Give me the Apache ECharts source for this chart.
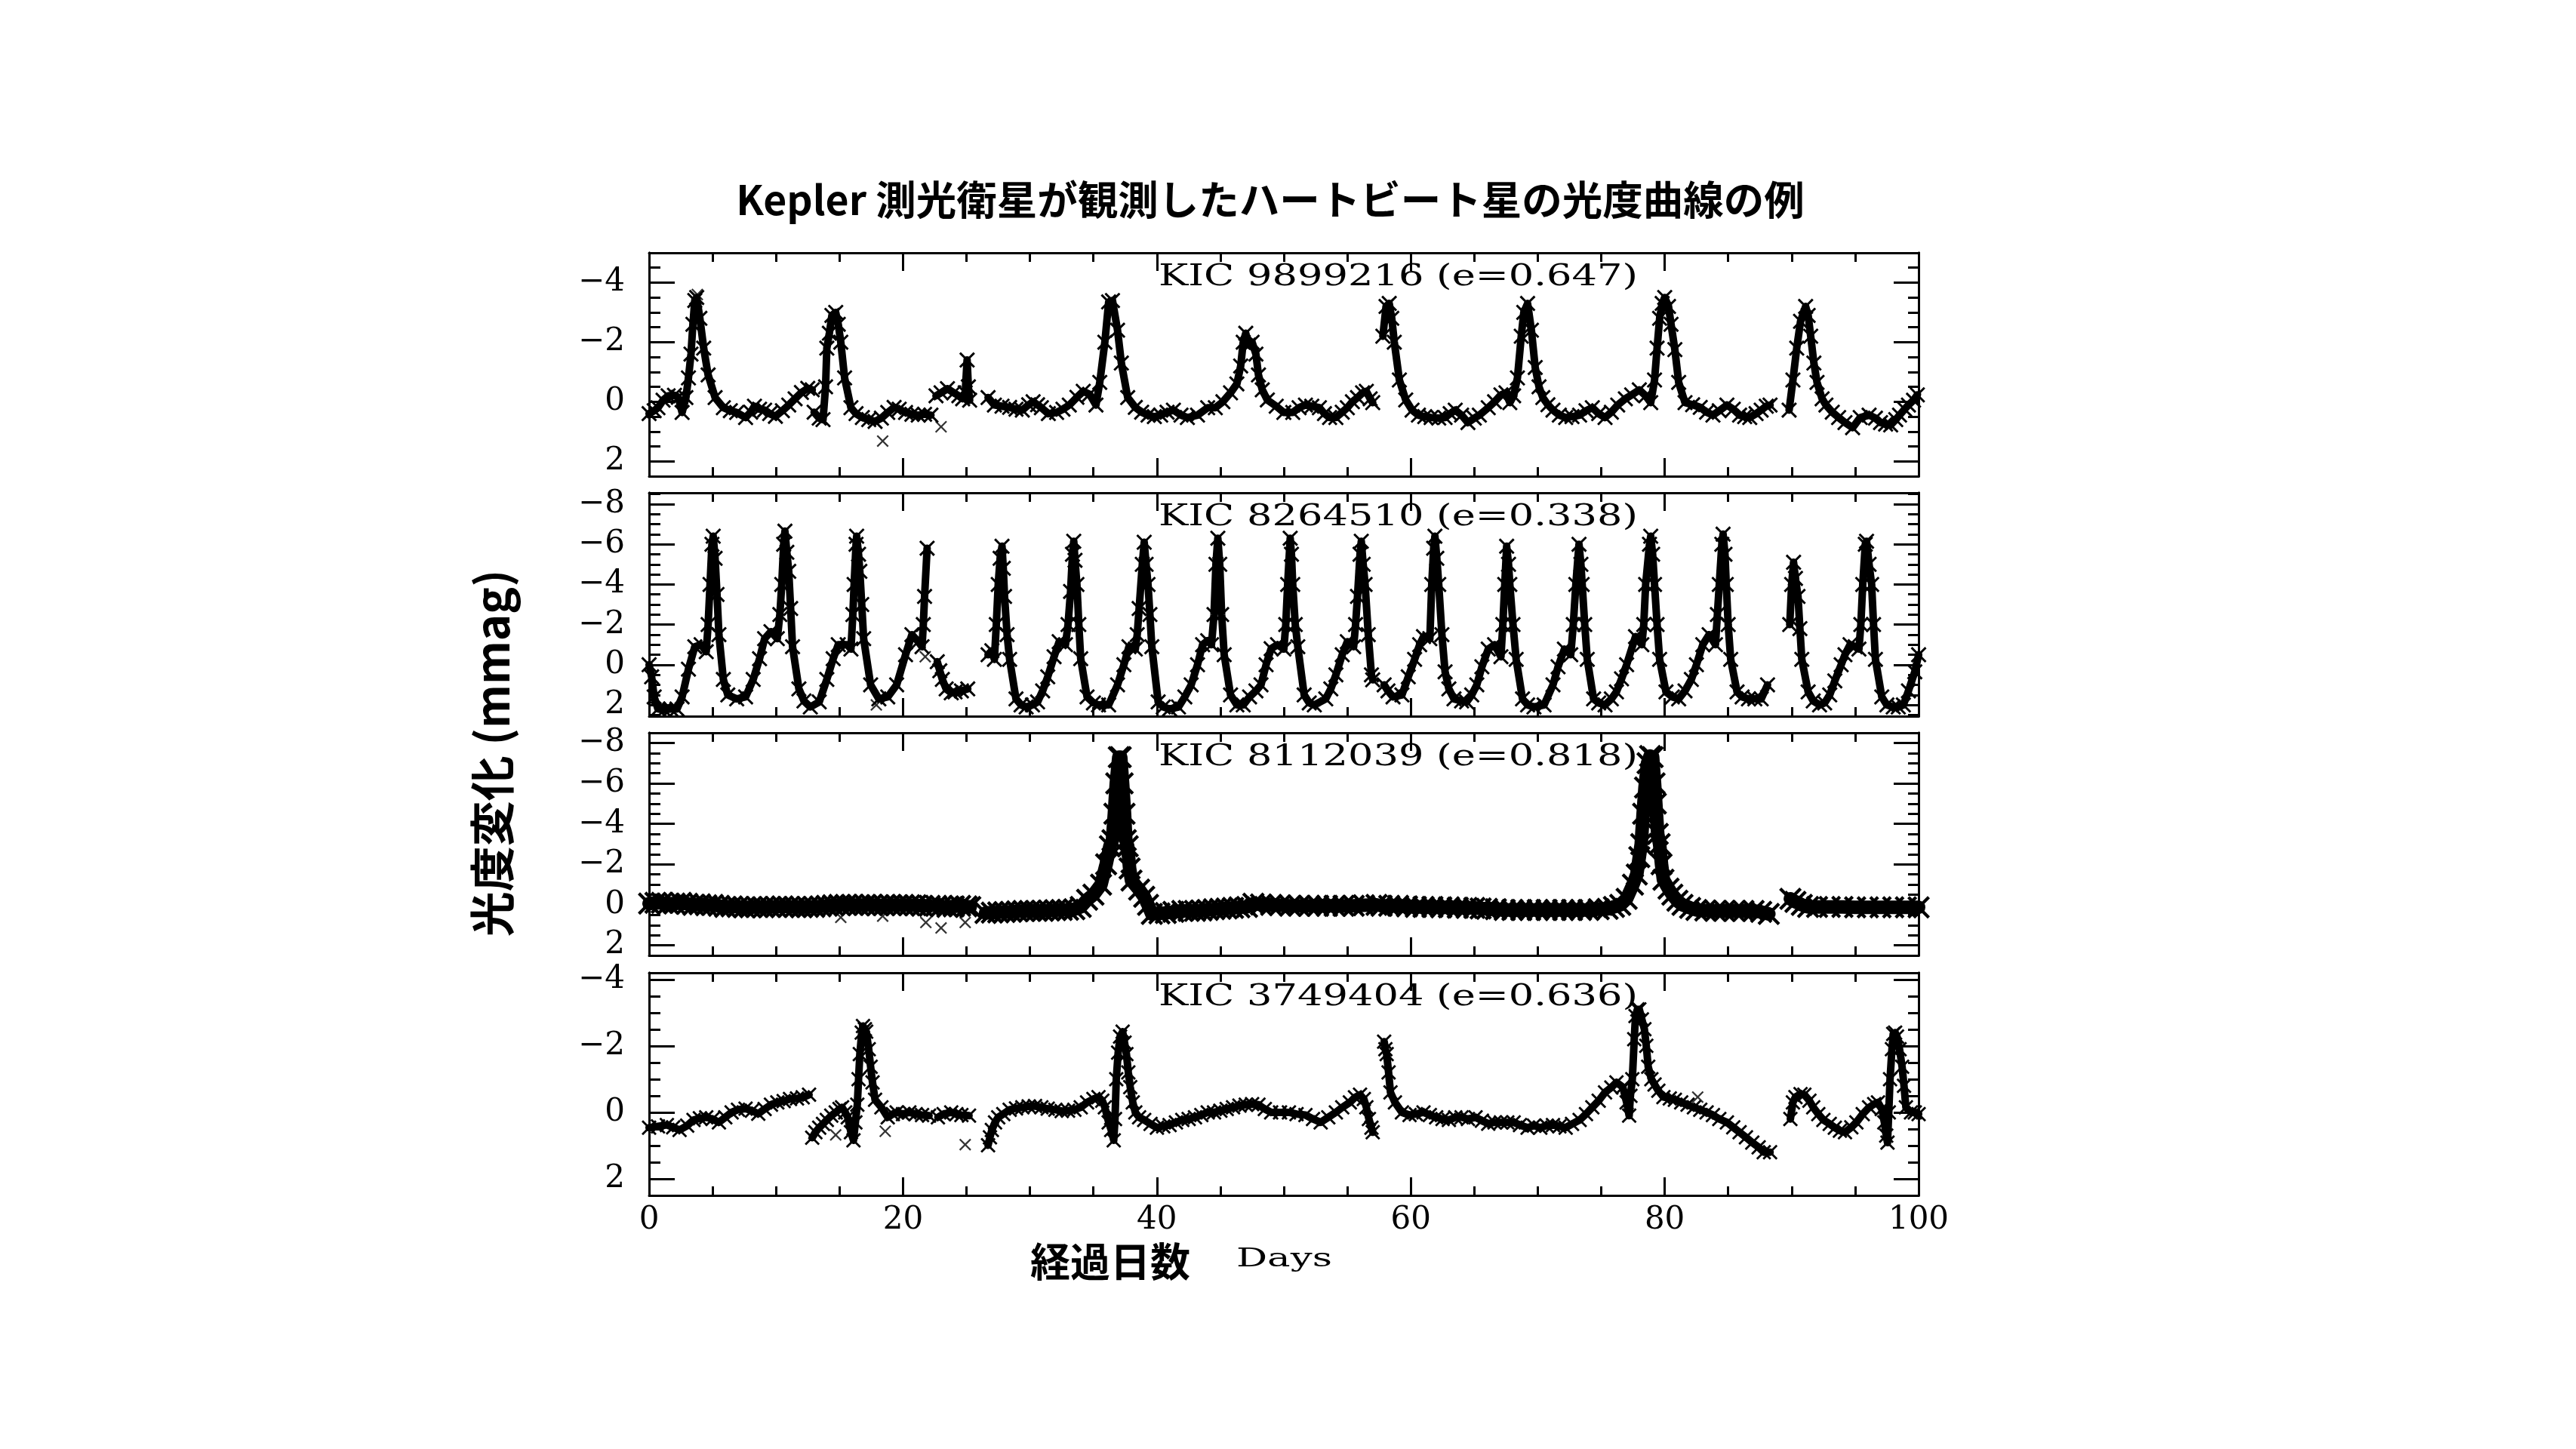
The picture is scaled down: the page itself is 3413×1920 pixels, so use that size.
<!DOCTYPE html>
<html><head><meta charset="utf-8">
<script src="https://cdn.jsdelivr.net/npm/echarts@6/dist/echarts.min.js"></script>
<style>html,body{margin:0;padding:0;background:#fff}#c{width:3413px;height:1920px}</style>
</head><body><div id="c"></div>
<script>
// ---------------- DATA ----------------
const TITLE = 'Kepler 測光衛星が観測したハートビート星の光度曲線の例';
const Y_NAME = '光度変化 (mmag)';
const X_NAME_JA = '経過日数';
const X_NAME_EN = 'Days';
const KIC_LABELS = ['KIC 9899216 (e=0.647)', 'KIC 8264510 (e=0.338)', 'KIC 8112039 (e=0.818)', 'KIC 3749404 (e=0.636)'];
const X_TICKS = [0, 20, 40, 60, 80, 100];
const Y_TICKS = [[-4, -2, 0, 2], [-8, -6, -4, -2, 0, 2], [-8, -6, -4, -2, 0, 2], [-4, -2, 0, 2]];
const Y_RANGES = [[-5, 2.5], [-8.56, 2.56], [-8.5, 2.5], [-4.2, 2.5]];

// light curves: [day, mmag]; null = gap in the data
const kic9899216 = [
 [0.0,0.40],[0.4,0.30],[0.7,0.20],[1.1,-0.05],[1.5,-0.20],[2.0,-0.22],[2.3,-0.15],[2.6,0.36],[2.9,-0.14],[3.1,-0.8],[3.3,-1.6],[3.45,-2.6],[3.6,-3.4],[3.75,-3.5],[4.0,-2.8],[4.3,-1.8],[4.65,-0.9],[5.2,-0.14],[5.85,0.2],[6.4,0.3],[6.9,0.36],[7.6,0.53],[8.0,0.35],[8.3,0.15],[8.7,0.25],[9.1,0.28],[9.5,0.4],[9.95,0.49],[10.5,0.3],[11.0,0.11],[11.5,-0.1],[12.0,-0.31],[12.5,-0.45],[12.85,-0.40],
 null,
 [13.0,0.35],[13.4,0.55],[13.7,0.6],[13.9,-0.5],[14.0,-1.8],[14.2,-2.3],[14.4,-2.9],[14.7,-3.0],[14.9,-2.6],[15.1,-2.0],[15.4,-0.8],[15.9,0.2],[16.3,0.4],[16.8,0.53],[17.3,0.6],[17.8,0.66],[18.3,0.55],[18.8,0.36],[19.3,0.19],[19.7,0.25],[20.2,0.36],[20.7,0.42],[21.2,0.45],[21.7,0.42],[22.2,0.45],
 null,
 [22.6,-0.2],[23.0,-0.3],[23.5,-0.44],[24.0,-0.3],[24.4,-0.2],[24.7,-0.1],[24.9,-0.3],[25.05,-1.4],[25.15,-0.5],[25.25,-0.05],
 null,
 [26.7,-0.14],[27.2,0.11],[27.8,0.15],[28.4,0.19],[28.9,0.25],[29.4,0.28],[29.9,0.1],[30.25,0.0],[30.6,0.1],[30.9,0.2],[31.45,0.4],[32.1,0.36],[32.6,0.25],[33.1,0.11],[33.7,-0.15],[34.2,-0.35],[34.7,-0.25],[35.2,0.11],[35.5,-0.65],[35.9,-2.0],[36.2,-3.35],[36.5,-3.4],[36.9,-2.4],[37.2,-1.3],[37.7,-0.14],[38.3,0.19],[38.8,0.35],[39.3,0.45],[39.8,0.5],[40.3,0.45],[40.8,0.35],[41.3,0.28],[41.9,0.45],[42.4,0.53],[43.2,0.45],[44.0,0.2],[44.6,0.2],[45.2,0.0],[45.8,-0.3],[46.3,-0.6],[46.6,-1.2],[46.8,-2.0],[47.0,-2.3],[47.2,-1.9],[47.5,-2.0],[47.8,-1.6],[48.0,-0.9],[48.3,-0.4],[48.7,-0.06],[49.4,0.15],[50.0,0.36],[50.7,0.36],[51.2,0.2],[51.7,0.11],[52.2,0.15],[52.8,0.2],[53.2,0.4],[53.6,0.53],[54.1,0.53],[54.6,0.35],[55.0,0.2],[55.4,0.0],[55.8,-0.14],[56.2,-0.3],[56.5,-0.35],[56.8,-0.1],[57.0,0.03],
 null,
 [57.8,-2.2],[58.05,-3.2],[58.3,-3.3],[58.5,-2.8],[58.7,-2.0],[59.1,-0.73],[59.6,-0.06],[60.1,0.28],[60.6,0.45],[61.1,0.5],[61.6,0.53],[62.2,0.55],[62.7,0.53],[63.1,0.4],[63.5,0.28],[64.0,0.45],[64.5,0.7],[65.0,0.55],[65.4,0.45],[66.1,0.2],[66.6,0.0],[67.1,-0.23],[67.5,-0.3],[67.8,0.03],[68.1,-0.2],[68.4,-0.8],[68.7,-2.2],[68.9,-3.0],[69.2,-3.3],[69.5,-2.4],[69.8,-1.15],[70.1,-0.5],[70.4,-0.14],[70.8,0.1],[71.2,0.28],[71.7,0.45],[72.2,0.53],[72.7,0.5],[73.3,0.45],[73.8,0.3],[74.3,0.2],[74.8,0.4],[75.3,0.53],[75.8,0.35],[76.3,0.11],[76.9,-0.1],[77.4,-0.23],[78.0,-0.4],[78.5,-0.2],[78.9,0.03],[79.2,-0.73],[79.4,-1.8],[79.6,-2.8],[79.8,-3.3],[80.0,-3.5],[80.3,-3.2],[80.5,-2.6],[80.8,-1.75],[81.1,-0.65],[81.6,0.03],[82.2,0.1],[82.8,0.19],[83.3,0.35],[83.8,0.45],[84.3,0.3],[84.9,0.11],[85.4,0.25],[85.9,0.45],[86.3,0.5],[86.7,0.53],[87.2,0.4],[87.6,0.28],[88.0,0.15],[88.3,0.11],
 null,
 [89.8,0.28],[90.1,-0.73],[90.4,-1.8],[90.7,-2.7],[91.1,-3.2],[91.3,-2.9],[91.5,-2.2],[91.75,-1.3],[92.0,-0.65],[92.4,-0.1],[92.7,0.11],[93.2,0.35],[93.7,0.53],[94.2,0.7],[94.8,0.87],[95.4,0.53],[96.1,0.45],[96.6,0.55],[97.0,0.7],[97.4,0.75],[97.8,0.78],[98.2,0.6],[98.5,0.45],[98.9,0.25],[99.2,0.11],[99.6,-0.05],[99.9,-0.23]
];
const kic9899216Outliers = [[18.4,1.32],[23.0,0.84],[3.8,-3.6]];

const kic8264510 = [
 [0.0,0.0],[0.2,0.6],[0.4,1.6],[0.7,2.2],[1.2,2.25],[1.7,2.2],[2.2,2.2],[2.6,1.6],[3.1,0.22],[3.6,-0.9],[4.1,-1.0],[4.5,-0.65],[4.65,-2.0],[4.8,-4.0],[4.95,-6.0],[5.05,-6.4],[5.2,-5.3],[5.35,-3.5],[5.5,-1.5],[5.85,0.73],[6.2,1.5],[6.9,1.7],[7.6,1.6],[8.2,0.73],[8.7,-0.3],[9.1,-1.3],[9.6,-1.65],[10.1,-1.3],[10.3,-2.5],[10.45,-4.0],[10.6,-6.0],[10.7,-6.65],[10.85,-5.6],[11.0,-4.65],[11.15,-2.8],[11.3,-0.9],[11.8,1.2],[12.2,1.8],[12.7,2.1],[13.4,1.85],[14.0,0.73],[14.5,-0.3],[14.9,-1.0],[15.6,-1.0],[15.9,-0.78],[16.05,-2.5],[16.15,-4.0],[16.3,-6.0],[16.35,-6.4],[16.5,-5.5],[16.6,-4.65],[16.75,-3.0],[16.9,-1.3],[17.45,1.0],[18.1,1.7],[18.8,1.6],[19.5,1.0],[20.2,-0.5],[20.7,-1.5],[21.2,-1.15],[21.5,-0.9],[21.6,-2.0],[21.7,-3.4],[21.9,-5.8],
 null,
 [22.7,-0.15],[22.9,0.3],[23.1,0.73],[23.4,1.2],[23.8,1.4],[24.1,1.35],[24.6,1.3],[25.1,1.2],
 null,
 [26.7,-0.5],[27.0,-0.7],[27.2,-0.27],[27.35,-2.0],[27.5,-4.0],[27.65,-5.3],[27.8,-5.9],[27.9,-4.8],[28.0,-3.4],[28.2,-1.5],[28.4,-0.27],[28.9,1.7],[29.3,2.0],[29.7,2.1],[30.2,2.0],[30.6,1.85],[31.0,1.3],[31.4,0.6],[31.9,-0.4],[32.3,-1.15],[32.8,-1.0],[33.0,-2.0],[33.2,-3.65],[33.35,-5.5],[33.45,-6.15],[33.55,-5.2],[33.7,-4.0],[33.85,-2.0],[34.0,-0.3],[34.5,1.6],[35.0,1.9],[35.4,2.0],[36.2,2.0],[36.9,1.0],[37.4,0.0],[37.8,-0.9],[38.3,-0.78],[38.45,-1.5],[38.6,-2.8],[38.85,-5.0],[39.0,-6.1],[39.15,-5.0],[39.3,-4.0],[39.45,-2.5],[39.6,-0.9],[40.1,1.85],[40.5,2.1],[41.0,2.2],[41.7,2.1],[42.2,1.6],[42.7,1.0],[43.2,0.0],[43.6,-1.0],[44.0,-1.2],[44.3,-1.0],[44.5,-2.5],[44.65,-5.0],[44.8,-6.3],[44.95,-5.0],[45.1,-2.5],[45.3,-0.5],[45.8,1.5],[46.3,2.0],[46.8,2.0],[47.3,1.6],[47.8,1.3],[48.2,1.0],[48.6,0.0],[49.0,-0.8],[49.5,-1.0],[50.0,-0.78],[50.15,-2.0],[50.3,-4.0],[50.5,-6.3],[50.6,-5.5],[50.7,-4.0],[50.9,-2.0],[51.1,-0.9],[51.6,1.5],[52.0,1.9],[52.4,2.0],[53.3,1.7],[53.7,1.2],[54.1,0.5],[54.6,-0.5],[55.0,-1.15],[55.5,-0.9],[55.65,-2.0],[55.8,-3.4],[56.0,-5.5],[56.1,-6.15],[56.25,-5.0],[56.4,-4.0],[56.65,-1.5],[56.9,0.5],[57.0,0.75],
 null,
 [57.9,1.0],[58.2,1.3],[58.6,1.6],[59.3,1.5],[59.8,0.6],[60.3,-0.27],[60.7,-1.0],[61.0,-1.4],[61.5,-1.3],[61.65,-4.0],[61.8,-5.8],[61.9,-6.4],[62.05,-5.3],[62.2,-4.0],[62.45,-1.5],[62.7,0.35],[63.0,1.2],[63.4,1.7],[64.0,1.8],[64.4,1.85],[64.8,1.5],[65.2,1.0],[65.6,0.1],[66.1,-0.78],[66.6,-1.0],[67.1,-0.4],[67.25,-2.0],[67.4,-4.0],[67.55,-5.9],[67.7,-5.0],[67.8,-4.0],[68.05,-2.0],[68.3,-0.27],[68.8,1.7],[69.2,2.0],[69.7,2.1],[70.5,2.0],[71.2,1.0],[71.6,0.1],[72.1,-0.78],[72.6,-0.5],[72.8,-2.0],[73.0,-4.0],[73.25,-6.0],[73.4,-5.0],[73.5,-4.0],[73.7,-2.0],[73.9,-0.27],[74.4,1.7],[74.8,1.9],[75.3,2.0],[75.8,1.7],[76.2,1.35],[76.6,0.7],[77.0,0.0],[77.7,-1.4],[78.2,-1.0],[78.35,-2.0],[78.5,-4.0],[78.8,-6.0],[78.9,-6.4],[79.05,-5.5],[79.2,-4.0],[79.4,-2.0],[79.6,-0.27],[80.1,1.35],[80.6,1.6],[81.1,1.7],[81.6,1.3],[82.1,0.73],[82.5,0.0],[83.0,-1.0],[83.5,-1.5],[84.0,-1.0],[84.15,-2.5],[84.3,-4.0],[84.5,-6.0],[84.6,-6.5],[84.75,-5.5],[84.85,-4.0],[85.0,-2.0],[85.2,-0.27],[85.7,1.35],[86.1,1.6],[86.6,1.7],[87.1,1.7],[87.6,1.7],[88.1,1.0],
 null,
 [89.85,-2.0],[90.0,-4.0],[90.15,-5.1],[90.3,-4.3],[90.5,-3.4],[90.65,-1.8],[90.8,-0.27],[91.3,1.35],[91.7,1.8],[92.2,2.0],[92.6,1.9],[93.0,1.5],[93.4,0.8],[93.9,0.0],[94.2,-0.5],[94.6,-1.0],[95.0,-0.9],[95.3,-0.78],[95.45,-2.0],[95.6,-4.0],[95.8,-6.0],[95.9,-6.15],[96.1,-5.0],[96.3,-4.0],[96.45,-2.0],[96.6,-0.27],[97.1,1.6],[97.5,2.0],[98.0,2.1],[98.4,2.1],[98.8,2.0],[99.2,1.3],[99.7,0.35],[100.0,-0.5]
];
const kic8264510Outliers = [[21.75,-0.4],[17.9,2.0]];

const kic8112039 = [
 [0.0,-0.06],[0.5,-0.1],[1.0,-0.1],[1.5,-0.05],[2.0,-0.06],[2.5,-0.1],[3.0,-0.05],[3.5,0.0],[4.0,-0.03],[4.5,0.02],[5.0,0.0],[5.5,0.05],[6.0,0.1],[6.5,0.08],[7.0,0.1],[7.5,0.12],[8.0,0.12],[8.5,0.1],[9.0,0.12],[9.5,0.1],[10.0,0.1],[10.5,0.08],[11.0,0.1],[11.5,0.1],[12.0,0.12],[12.5,0.1],[13.0,0.1],[13.5,0.08],[14.0,0.05],[14.5,0.02],[15.0,0.0],[15.5,0.0],[16.0,0.0],[16.5,0.02],[17.0,0.0],[17.5,0.0],[18.0,0.02],[18.5,0.02],[19.0,0.0],[19.5,0.02],[20.0,0.0],[20.5,0.02],[21.0,0.02],[21.5,0.05],[22.1,0.05],
 null,
 [22.6,0.05],[23.0,0.08],[23.5,0.1],[24.0,0.08],[24.5,0.05],[25.0,0.08],[25.3,0.1],
 null,
 [26.5,0.4],[27.0,0.38],[27.5,0.37],[28.0,0.36],[28.5,0.35],[29.0,0.32],[29.5,0.3],[30.0,0.3],[30.5,0.3],[31.0,0.3],[31.5,0.28],[32.0,0.26],[32.5,0.25],[33.0,0.24],[33.5,0.22],[34.0,0.1],[34.5,-0.25],[35.0,-0.5],[35.6,-1.0],[36.0,-2.0],[36.3,-2.9],[36.5,-3.2],[36.65,-4.5],[36.8,-6.0],[37.0,-7.3],[37.15,-7.3],[37.3,-6.0],[37.45,-4.5],[37.55,-3.2],[37.7,-2.9],[37.85,-1.8],[38.0,-1.2],[38.6,-0.75],[39.0,-0.4],[39.3,0.0],[39.6,0.45],[40.2,0.42],[40.7,0.4],[41.3,0.35],[42.0,0.3],[42.5,0.3],[43.0,0.3],[43.5,0.28],[44.0,0.25],[44.5,0.22],[45.0,0.2],[45.5,0.18],[46.0,0.15],[46.5,0.12],[47.1,0.1],
 null,
 [47.6,-0.05],[48.2,-0.02],[49.0,0.0],[49.7,0.02],[50.5,0.05],[51.2,0.05],[52.0,0.05],[52.7,0.05],[53.4,0.05],[54.0,0.05],[54.7,0.05],[55.5,0.05],[56.3,0.02],[57.3,0.0],
 null,
 [57.7,0.05],[58.3,0.05],[59.0,0.05],[59.7,0.08],[60.4,0.1],[61.0,0.1],[61.7,0.1],[62.4,0.12],[63.0,0.12],[63.7,0.14],[64.4,0.15],[65.0,0.15],[65.5,0.18],[66.0,0.2],[66.7,0.22],[67.4,0.25],[68.0,0.25],[68.7,0.25],[69.4,0.25],[70.0,0.25],[70.7,0.25],[71.4,0.25],[72.0,0.25],[72.7,0.25],[73.4,0.25],[74.0,0.25],[74.8,0.22],[75.5,0.2],[76.0,0.1],[76.5,0.0],[77.0,-0.3],[77.5,-1.0],[77.8,-1.5],[78.0,-2.36],[78.15,-3.0],[78.3,-4.5],[78.45,-5.8],[78.65,-7.0],[78.85,-7.35],[79.05,-7.3],[79.2,-6.0],[79.3,-5.0],[79.45,-3.5],[79.6,-3.0],[79.75,-2.0],[79.9,-1.24],[80.3,-0.8],[80.6,-0.5],[81.0,-0.2],[81.4,0.0],[82.0,0.15],[82.5,0.25],[83.2,0.28],[84.0,0.3],[84.7,0.3],[85.5,0.3],[86.2,0.3],[87.0,0.3],[87.6,0.35],[88.2,0.45],
 null,
 [89.9,-0.3],[90.3,-0.15],[90.8,0.0],[91.3,0.1],[92.0,0.1],[93.0,0.1],[94.0,0.1],[95.0,0.12],[96.0,0.12],[97.0,0.12],[98.0,0.12],[99.0,0.12],[100.0,0.12]
];
const kic8112039Outliers = [[15.1,0.62],[18.4,0.56],[21.8,0.87],[23.0,1.14],[24.9,0.87]];

const kic3749404 = [
 [0.0,0.46],[0.7,0.42],[1.4,0.38],[1.9,0.45],[2.4,0.53],[3.0,0.4],[3.5,0.23],[4.0,0.18],[4.5,0.15],[5.0,0.2],[5.5,0.3],[6.0,0.15],[6.5,0.0],[7.0,-0.08],[7.6,-0.11],[8.1,-0.05],[8.6,0.04],[9.1,-0.1],[9.6,-0.23],[10.1,-0.3],[10.6,-0.34],[11.1,-0.4],[11.65,-0.42],[12.1,-0.45],[12.6,-0.53],
 null,
 [12.85,0.76],[13.1,0.6],[13.4,0.46],[13.7,0.35],[14.0,0.23],[14.35,0.1],[14.7,0.0],[15.0,-0.1],[15.2,-0.15],[15.45,0.0],[15.65,0.15],[15.9,0.6],[16.1,0.84],[16.25,0.3],[16.4,-0.23],[16.5,-1.0],[16.6,-1.75],[16.75,-2.4],[16.85,-2.6],[17.0,-2.5],[17.1,-2.43],[17.3,-1.9],[17.45,-1.37],[17.6,-0.9],[17.8,-0.38],[18.3,-0.15],[18.8,0.15],[19.2,0.05],[19.5,0.0],[20.0,0.05],[20.5,0.0],[21.0,0.05],[21.5,0.08],[22.05,0.1],
 null,
 [22.75,0.15],[23.2,0.05],[23.8,0.0],[24.2,0.05],[24.6,0.08],[25.2,0.1],
 null,
 [26.7,0.99],[26.85,0.75],[27.0,0.53],[27.25,0.3],[27.5,0.15],[27.9,0.05],[28.4,-0.08],[28.9,-0.12],[29.4,-0.15],[29.9,-0.18],[30.4,-0.19],[30.9,-0.15],[31.4,-0.11],[32.0,-0.08],[32.5,-0.04],[33.0,-0.05],[33.5,-0.08],[34.0,-0.15],[34.5,-0.3],[35.0,-0.4],[35.4,-0.46],[35.7,-0.35],[35.9,-0.15],[36.2,0.3],[36.4,0.53],[36.6,0.84],[36.7,0.2],[36.8,-1.0],[36.95,-1.8],[37.1,-2.28],[37.3,-2.43],[37.45,-2.1],[37.6,-1.75],[37.75,-1.2],[37.9,-0.76],[38.1,-0.3],[38.3,0.0],[38.6,0.15],[39.0,0.23],[39.5,0.35],[40.0,0.46],[40.5,0.42],[41.0,0.38],[41.5,0.3],[42.0,0.23],[42.5,0.2],[43.0,0.15],[43.5,0.08],[44.0,0.0],[44.5,0.0],[45.0,-0.05],[45.5,-0.1],[46.0,-0.15],[46.5,-0.2],[47.0,-0.23],[47.5,-0.25],[48.0,-0.23],[48.5,-0.1],[49.0,0.0],[49.7,0.0],[50.4,0.0],[51.0,0.05],[51.7,0.08],[52.3,0.2],[52.9,0.3],[53.5,0.15],[54.1,0.0],[54.6,-0.15],[55.2,-0.3],[55.6,-0.45],[56.0,-0.53],[56.3,-0.4],[56.5,-0.15],[56.7,0.2],[56.9,0.46],[57.0,0.6],
 null,
 [57.9,-2.13],[58.0,-1.9],[58.1,-1.75],[58.25,-1.2],[58.4,-0.6],[58.75,-0.3],[59.3,0.0],[59.9,0.08],[60.4,0.05],[61.0,0.0],[61.5,0.08],[62.0,0.15],[62.5,0.2],[63.0,0.23],[63.5,0.15],[64.0,0.15],[64.5,0.2],[65.1,0.15],[65.6,0.25],[66.1,0.34],[66.6,0.3],[67.1,0.3],[67.6,0.3],[68.1,0.3],[68.6,0.38],[69.2,0.46],[69.7,0.4],[70.2,0.46],[70.7,0.4],[71.2,0.38],[71.7,0.42],[72.2,0.46],[72.7,0.35],[73.3,0.23],[73.8,0.05],[74.3,-0.15],[74.8,-0.35],[75.3,-0.6],[75.8,-0.75],[76.2,-0.9],[76.7,-0.76],[77.0,-0.3],[77.2,0.1],[77.3,-0.5],[77.45,-1.0],[77.6,-2.2],[77.7,-2.9],[77.85,-3.1],[78.0,-3.1],[78.2,-2.8],[78.4,-2.5],[78.55,-2.0],[78.7,-1.37],[78.95,-1.0],[79.2,-0.84],[79.5,-0.65],[79.9,-0.46],[80.4,-0.42],[80.8,-0.38],[81.3,-0.3],[81.8,-0.23],[82.3,-0.15],[82.8,-0.08],[83.3,0.0],[83.8,0.08],[84.3,0.2],[84.9,0.3],[85.4,0.45],[85.9,0.6],[86.4,0.75],[86.9,0.91],[87.4,1.05],[87.8,1.2],[88.3,1.2],
 null,
 [89.9,0.2],[90.1,-0.3],[90.3,-0.46],[90.7,-0.55],[91.0,-0.53],[91.4,-0.35],[91.7,-0.15],[92.1,0.05],[92.5,0.23],[93.0,0.35],[93.4,0.46],[93.8,0.55],[94.2,0.6],[94.7,0.45],[95.1,0.3],[95.6,0.05],[96.1,-0.15],[96.5,-0.25],[96.8,-0.3],[97.1,-0.1],[97.3,0.3],[97.45,0.7],[97.55,0.91],[97.65,0.0],[97.75,-1.0],[97.9,-1.9],[98.0,-2.36],[98.15,-2.4],[98.3,-2.28],[98.5,-1.9],[98.7,-1.37],[98.85,-0.8],[99.0,-0.15],[99.4,0.0],[99.7,0.0],[100.0,0.05]
];
const kic3749404Outliers = [[14.7,0.68],[18.6,0.57],[24.9,0.97],[82.6,-0.46]];

const CURVES = [kic9899216, kic8264510, kic8112039, kic3749404];
const OUTLIERS = [kic9899216Outliers, kic8264510Outliers, kic8112039Outliers, kic3749404Outliers];

// ---------------- LAYOUT / STYLE ----------------
const PLOT_LEFT = 860, PLOT_WIDTH = 1682;
const GRID_TOPS = [335, 653, 971, 1289];
const GRID_HEIGHTS = [296, 296, 295, 295];
const LINE_W = [10, 10, 18, 10];
const SYM_SIZE = [21, 21, 30, 20];
const XSYM = 'path://M0,1L1,0L5,4L9,0L10,1L6,5L10,9L9,10L5,6L1,10L0,9L4,5Z';
const SERIF = '"DejaVu Serif", "Liberation Serif", serif';
const JP = '"Noto Sans CJK JP", "Noto Sans CJK SC", sans-serif';
const TICK_FONT = 42;

const measureCtx = document.createElement('canvas').getContext('2d');
function textWidth(text, font) { measureCtx.font = font; return measureCtx.measureText(text).width; }

function minorTicks(range, majors) {
  const out = [];
  for (let v = Math.ceil(range[0] * 2) / 2; v < range[1]; v += 0.5) {
    if (v > range[0] && !majors.includes(v)) out.push(v);
  }
  return out;
}
const fmt = v => String(v).replace('-', '\u2212');

const grids = [], xAxes = [], yAxes = [], series = [];
for (let i = 0; i < 4; i++) {
  grids.push({ left: PLOT_LEFT, top: GRID_TOPS[i], width: PLOT_WIDTH, height: GRID_HEIGHTS[i], containLabel: false });
  const showX = i === 3;
  ['bottom', 'top'].forEach(pos => {
    xAxes.push({
      gridIndex: i, type: 'value', position: pos, min: X_TICKS[0], max: X_TICKS[X_TICKS.length - 1], interval: 20,
      axisLine: { show: true, onZero: false, lineStyle: { color: '#000', width: 3 } },
      axisTick: { show: true, inside: true, length: 24, lineStyle: { color: '#000', width: 3 } },
      minorTick: { show: true, splitNumber: 4, length: 12, lineStyle: { color: '#000', width: 3 } },
      axisLabel: { show: showX && pos === 'bottom', fontFamily: SERIF, fontSize: TICK_FONT, color: '#000', margin: 12 },
      splitLine: { show: false }, minorSplitLine: { show: false }
    });
  });
  const mn = minorTicks(Y_RANGES[i], Y_TICKS[i]);
  [['left', Y_TICKS[i], 34, true], ['right', Y_TICKS[i], 33, false], ['left', mn, 15, false], ['right', mn, 14, false]].forEach(([pos, vals, len, lab]) => {
    yAxes.push({
      gridIndex: i, type: 'value', position: pos, inverse: true, min: Y_RANGES[i][0], max: Y_RANGES[i][1],
      axisLine: { show: true, onZero: false, lineStyle: { color: '#000', width: 3 } },
      axisTick: { show: true, inside: true, length: len, customValues: vals, lineStyle: { color: '#000', width: 3 } },
      axisLabel: { show: lab, customValues: vals, formatter: fmt, fontFamily: SERIF, fontSize: TICK_FONT, color: '#000', margin: 32 },
      splitLine: { show: false }
    });
  });
  series.push({
    type: 'line', xAxisIndex: 2 * i, yAxisIndex: 4 * i,
    data: CURVES[i].map(p => p === null ? ['-', '-'] : p),
    connectNulls: false, showSymbol: true, showAllSymbol: true, symbol: XSYM, symbolSize: SYM_SIZE[i],
    lineStyle: { color: '#000', width: LINE_W[i], join: 'round', cap: 'round' },
    itemStyle: { color: '#000' }, silent: true, emphasis: { disabled: true }, animation: false
  });
  series.push({
    type: 'scatter', xAxisIndex: 2 * i, yAxisIndex: 4 * i,
    data: OUTLIERS[i], symbol: XSYM, symbolSize: 16,
    itemStyle: { color: '#000' }, silent: true, emphasis: { disabled: true }, animation: false
  });
}

// text elements
const graphics = [];
const titleSize = 1415 / textWidth(TITLE, 'bold 100px ' + JP) * 100;
graphics.push({ type: 'text', x: 1683, y: 265, style: { text: TITLE, font: 'bold ' + titleSize.toFixed(1) + 'px ' + JP, fill: '#000', align: 'center', verticalAlign: 'middle', textAlign: 'center', textVerticalAlign: 'middle' } });
const yNameSize = 486 / textWidth(Y_NAME, 'bold 100px ' + JP) * 100;
graphics.push({ type: 'text', x: 652, y: 998, rotation: Math.PI / 2, style: { text: Y_NAME, font: 'bold ' + yNameSize.toFixed(1) + 'px ' + JP, fill: '#000', align: 'center', verticalAlign: 'middle', textAlign: 'center', textVerticalAlign: 'middle' } });
const xNameSize = 212 / textWidth(X_NAME_JA, 'bold 100px ' + JP) * 100;
graphics.push({ type: 'text', x: 1471, y: 1672, style: { text: X_NAME_JA, font: 'bold ' + xNameSize.toFixed(1) + 'px ' + JP, fill: '#000', align: 'center', verticalAlign: 'middle', textAlign: 'center', textVerticalAlign: 'middle' } });
const daysFont = '34px ' + SERIF;
graphics.push({ type: 'text', x: 1638, y: 1669, scaleX: 127 / textWidth(X_NAME_EN, daysFont), style: { text: X_NAME_EN, font: daysFont, fill: '#000', align: 'left', verticalAlign: 'middle', textAlign: 'left', textVerticalAlign: 'middle' } });
const kicFont = '39px ' + SERIF;
KIC_LABELS.forEach((lab, i) => {
  graphics.push({ type: 'text', x: 1535, y: GRID_TOPS[i] + 33, scaleX: 635 / textWidth(lab, kicFont), z: 10,
    style: { text: lab, font: kicFont, fill: '#000', align: 'left', verticalAlign: 'middle', textAlign: 'left', textVerticalAlign: 'middle' } });
});

const chart = echarts.init(document.getElementById('c'), null, { renderer: 'canvas' });
chart.setOption({
  backgroundColor: '#fff', animation: false,
  grid: grids, xAxis: xAxes, yAxis: yAxes, series: series, graphic: graphics
});
</script></body></html>
